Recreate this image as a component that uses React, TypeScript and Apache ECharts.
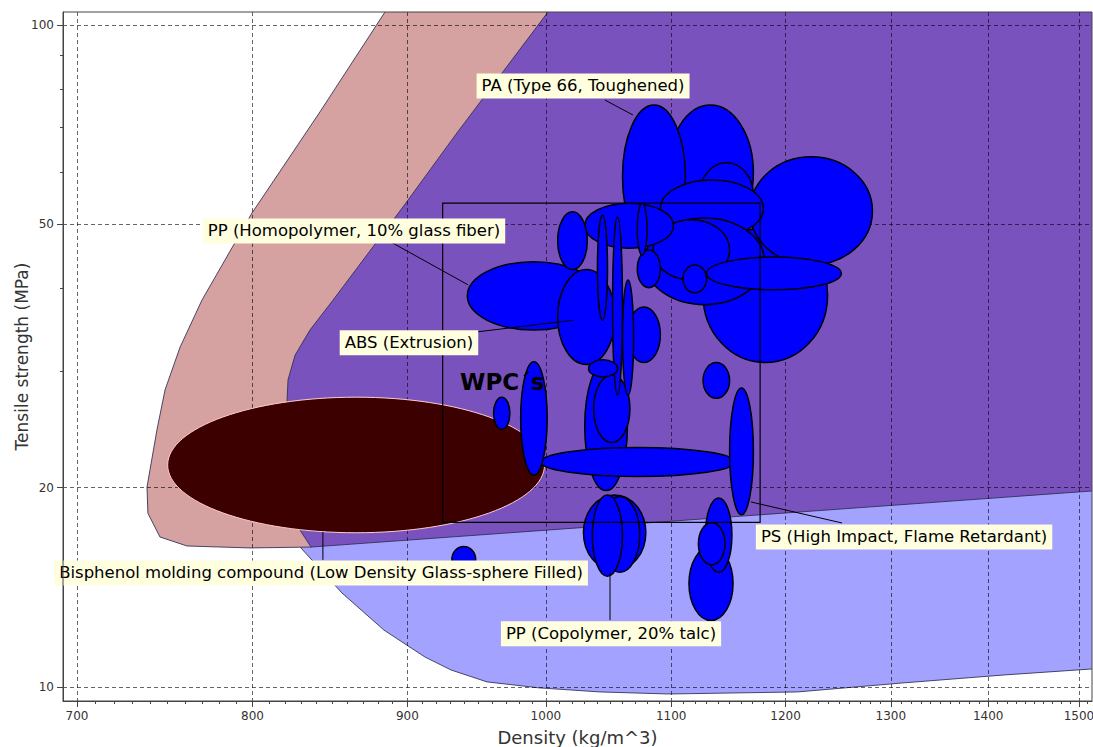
import React, { useEffect, useRef } from "react";
import * as echarts from "echarts";

// Axis extents (density in kg/m^3, tensile strength in MPa), both logarithmic
const X_RANGE: [number, number] = [692.6, 1515];
const Y_RANGE: [number, number] = [9.525, 104.6];
const X_MAJOR = [700, 800, 900, 1000, 1100, 1200, 1300, 1400, 1500];
const Y_MAJOR = [10, 20, 50, 100];
const Y_MINOR = [30, 40, 60, 70, 80, 90];
const X_MINOR: number[] = [];
for (let v = 710; v <= 1510; v += 10) if (v % 100 !== 0) X_MINOR.push(v);

// Family envelopes as outlines of [density, strength]
const BLUE_ENVELOPE: [number, number][] = [
  [1042, 27.1], [823.1, 27.1], [826.3, 17.87], [830.0, 16.22], [856.3, 13.87],
  [884.1, 12.19], [912.1, 11.1], [930.4, 10.61], [956.2, 10.18], [994.8, 9.97],
  [1042, 9.83], [1098, 9.76], [1211, 9.83], [1311, 10.14], [1418, 10.43],
  [1516, 10.65], [1583, 10.8], [1583, 27.1],
];
const PINK_ENVELOPE: [number, number][] = [
  [908.7, 125.4], [884.8, 104.6], [842.1, 73.9], [799.7, 52.0], [769.8, 38.4],
  [757.1, 32.6], [748.5, 28.1], [743.9, 24.45], [738.3, 20.05], [738.8, 18.3],
  [745.6, 16.85], [761.1, 16.33], [798.5, 16.22], [836.4, 16.27], [858.3, 17.87],
  [1042, 64.7], [1082, 125.4],
];
const PURPLE_ENVELOPE: [number, number][] = [
  [1031.8, 125.4], [1001.6, 104.6], [934.6, 68.7], [897.0, 53.1], [850.5, 38.4],
  [835.7, 34.6], [826.3, 31.7], [821.9, 29.1], [821.3, 27.1], [822.5, 22.8],
  [825.6, 19.16], [829.4, 17.26], [836.4, 16.27], [1583, 20.06], [1583, 125.4],
];

// Highlighted grade: Bisphenol molding compound (low density, glass-sphere filled)
const BISPHENOL_DENSITY: [number, number] = [750, 999];
const BISPHENOL_STRENGTH: [number, number] = [17.1, 27.4];

// Individual grades: density range and tensile strength range
const GRADE_DENSITY: [number, number][] = [
  [1127, 1239], [1168, 1282], [1097, 1171], [1060, 1112], [1124, 1171],
  [1091, 1180], [1078, 1181], [1085, 1150], [1030, 1102], [1130, 1252],
  [1110, 1130], [1072, 1091], [1072, 1080], [1030, 1064], [1037, 1066],
  [942, 1042], [1009, 1032], [1009, 1054], [1064, 1091], [1040, 1048],
  [1052, 1060], [1060, 1069], [1033, 1056], [996, 1155], [981, 1001],
  [961, 973], [1150, 1171], [1127, 1150], [1029, 1079], [1042, 1074],
  [1036, 1060], [1115, 1153], [1129, 1152], [1123, 1146], [931, 948],
];
const GRADE_STRENGTH: [number, number][] = [
  [30.9, 49.4], [43.4, 63.2], [47.3, 75.7], [46.0, 75.7], [49.5, 61.9],
  [47.8, 58.3], [37.8, 51.1], [41.2, 50.8], [46.0, 53.8], [39.8, 44.6],
  [39.4, 43.4], [40.1, 45.7], [44.9, 53.8], [19.8, 31.0], [23.4, 29.6],
  [34.6, 43.9], [42.7, 52.2], [30.7, 42.7], [30.9, 37.5], [35.8, 51.6],
  [27.6, 51.3], [27.6, 41.2], [29.4, 31.2], [20.8, 23.0], [20.9, 31.0],
  [24.5, 27.4], [18.2, 28.3], [27.3, 30.9], [15.0, 19.5], [14.9, 19.4],
  [14.7, 19.5], [12.6, 16.3], [14.9, 19.3], [15.3, 17.7], [14.9, 16.3],
];

// WPC selection window
const WPC_DENSITY: [number, number] = [924.5, 1177];
const WPC_STRENGTH: [number, number] = [17.73, 53.8];

// Callouts: text, label centre, leader line start and end (density, strength)
const CALLOUTS: { text: string; at: [number, number]; from: [number, number]; to: [number, number] }[] = [
  { text: "PA (Type 66, Toughened)", at: [1028.7, 80.9], from: [1046.0, 77.0], to: [1068.5, 73.1] },
  { text: "PP (Homopolymer, 10% glass fiber)", at: [864.2, 48.85], from: [881.4, 48.0], to: [942.5, 40.5] },
  { text: "ABS (Extrusion)", at: [901.1, 33.1], from: [949.7, 34.4], to: [1020.9, 35.8] },
  { text: "Bisphenol molding compound (Low Density Glass-sphere Filled)", at: [842.8, 14.87], from: [844.0, 17.14], to: [844.0, 15.56] },
  { text: "PS (High Impact, Flame Retardant)", at: [1313.2, 16.85], from: [1168.9, 19.03], to: [1252.7, 17.69] },
  { text: "PP (Copolymer, 20% talc)", at: [1050.8, 12.03], from: [1050.0, 14.87], to: [1050.0, 12.62] },
];
const WPC_TITLE = { text: "WPC\u00b4s", at: [936.8, 28.9] as [number, number] };

const lg = Math.log10;
const FONT = "DejaVu Sans";

const envelope = (pts: [number, number][], fill: string, z: number) => ({
  type: "custom",
  coordinateSystem: "cartesian2d",
  clip: true,
  silent: true,
  z,
  data: [[lg(pts[0][0]), lg(pts[0][1])]],
  renderItem: (_p: any, api: any) => ({
    type: "polygon",
    shape: { points: pts.map((p) => api.coord([lg(p[0]), lg(p[1])])) },
    style: { fill, stroke: "rgba(45,45,80,0.85)", lineWidth: 1 },
  }),
});

const ellipseItem = (api: any, fill: string, stroke: string, lineWidth: number) => {
  const a = api.coord([api.value(0), api.value(2)]);
  const b = api.coord([api.value(1), api.value(3)]);
  return {
    type: "ellipse",
    shape: {
      cx: (a[0] + b[0]) / 2,
      cy: (a[1] + b[1]) / 2,
      rx: Math.abs(b[0] - a[0]) / 2,
      ry: Math.abs(b[1] - a[1]) / 2,
    },
    style: { fill, stroke, lineWidth },
  };
};

const option: any = {
  animation: false,
  backgroundColor: "#ffffff",
  grid: {
    left: 63, top: 12, right: 1, bottom: 46,
    outerBoundsMode: "none", containLabel: false,
    show: true, borderColor: "#444", borderWidth: 1, backgroundColor: "transparent", z: 6,
  },
  xAxis: [
    {
      type: "value", min: lg(X_RANGE[0]), max: lg(X_RANGE[1]), position: "bottom", z: 2,
      name: "Density (kg/m^3)", nameLocation: "middle", nameGap: 27, nameMoveOverlap: false,
      nameTextStyle: { fontSize: 18, color: "#333", fontFamily: FONT },
      axisLine: { show: true, onZero: false, lineStyle: { color: "#444" } },
      axisTick: { show: true, customValues: X_MAJOR.map(lg), length: 6, lineStyle: { color: "#444" } },
      axisLabel: {
        customValues: X_MAJOR.map(lg), margin: 9, fontSize: 12, color: "#333", fontFamily: FONT,
        hideOverlap: false,
        formatter: (v: number) => String(Math.round(Math.pow(10, v))),
      },
      splitLine: { show: true, lineStyle: { color: "rgba(0,0,0,0.6)", type: [4, 3], width: 1 } },
    },
    {
      type: "value", min: lg(X_RANGE[0]), max: lg(X_RANGE[1]), position: "bottom", z: 2,
      axisLine: { show: false, onZero: false },
      axisTick: { show: true, customValues: X_MINOR.map(lg), length: 3, lineStyle: { color: "#444" } },
      axisLabel: { show: false },
      splitLine: { show: false },
    },
  ],
  yAxis: [
    {
      type: "value", min: lg(Y_RANGE[0]), max: lg(Y_RANGE[1]), position: "left", z: 2,
      name: "Tensile strength (MPa)", nameLocation: "middle", nameGap: 33, nameMoveOverlap: false,
      nameTextStyle: { fontSize: 17, color: "#333", fontFamily: FONT },
      axisLine: { show: true, onZero: false, lineStyle: { color: "#444" } },
      axisTick: { show: true, customValues: Y_MAJOR.map(lg), length: 6, lineStyle: { color: "#444" } },
      axisLabel: {
        customValues: Y_MAJOR.map(lg), margin: 9, fontSize: 12, color: "#333", fontFamily: FONT,
        formatter: (v: number) => String(Math.round(Math.pow(10, v))),
      },
      splitLine: { show: true, lineStyle: { color: "rgba(0,0,0,0.6)", type: [4, 3], width: 1 } },
    },
    {
      type: "value", min: lg(Y_RANGE[0]), max: lg(Y_RANGE[1]), position: "left", z: 2,
      axisLine: { show: false, onZero: false },
      axisTick: { show: true, customValues: Y_MINOR.map(lg), length: 3, lineStyle: { color: "#444" } },
      axisLabel: { show: false },
      splitLine: { show: false },
    },
  ],
  series: [
    envelope(BLUE_ENVELOPE, "#a3a3ff", 0),
    envelope(PINK_ENVELOPE, "#d5a1a1", 0),
    envelope(PURPLE_ENVELOPE, "#7a52be", 0),
    {
      type: "custom", coordinateSystem: "cartesian2d", clip: true, silent: true, z: 3,
      encode: { x: [0, 1], y: [2, 3] },
      data: [[lg(BISPHENOL_DENSITY[0]), lg(BISPHENOL_DENSITY[1]), lg(BISPHENOL_STRENGTH[0]), lg(BISPHENOL_STRENGTH[1])]],
      renderItem: (_p: any, api: any) => ellipseItem(api, "#3d0000", "#ffcccc", 1),
    },
    {
      type: "custom", coordinateSystem: "cartesian2d", clip: true, silent: true, z: 3,
      encode: { x: [0, 1], y: [2, 3] },
      data: GRADE_DENSITY.map((d, i) => [lg(d[0]), lg(d[1]), lg(GRADE_STRENGTH[i][0]), lg(GRADE_STRENGTH[i][1])]),
      renderItem: (_p: any, api: any) => ellipseItem(api, "#0000ff", "#000000", 1.5),
    },
    {
      type: "custom", coordinateSystem: "cartesian2d", clip: true, silent: true, z: 4,
      encode: { x: [0, 1], y: [2, 3] },
      data: [[lg(WPC_DENSITY[0]), lg(WPC_DENSITY[1]), lg(WPC_STRENGTH[0]), lg(WPC_STRENGTH[1])]],
      renderItem: (_p: any, api: any) => {
        const a = api.coord([api.value(0), api.value(2)]);
        const b = api.coord([api.value(1), api.value(3)]);
        return {
          type: "rect",
          shape: { x: a[0], y: b[1], width: b[0] - a[0], height: a[1] - b[1] },
          style: { fill: "none", stroke: "#000", lineWidth: 1.2 },
        };
      },
    },
    {
      type: "custom", coordinateSystem: "cartesian2d", clip: false, silent: true, z: 5,
      data: [[lg(WPC_TITLE.at[0]), lg(WPC_TITLE.at[1])]],
      renderItem: (_p: any, api: any) => {
        const p = api.coord([api.value(0), api.value(1)]);
        return {
          type: "text", x: p[0], y: p[1],
          style: {
            text: WPC_TITLE.text, align: "left", verticalAlign: "middle",
            fontSize: 23, fontWeight: "bold", fontFamily: FONT, fill: "#000",
          },
        };
      },
    },
    {
      type: "custom", coordinateSystem: "cartesian2d", clip: false, silent: true, z: 5,
      data: CALLOUTS.map((c) => [lg(c.at[0]), lg(c.at[1])]),
      renderItem: (params: any, api: any) => {
        const c = CALLOUTS[params.dataIndex];
        const p = api.coord([lg(c.at[0]), lg(c.at[1])]);
        const f = api.coord([lg(c.from[0]), lg(c.from[1])]);
        const t = api.coord([lg(c.to[0]), lg(c.to[1])]);
        return {
          type: "group",
          children: [
            { type: "line", shape: { x1: f[0], y1: f[1], x2: t[0], y2: t[1] }, style: { stroke: "#000", lineWidth: 1 } },
            {
              type: "text", x: p[0], y: p[1],
              style: {
                text: c.text, align: "center", verticalAlign: "middle",
                fontSize: 16.5, fontFamily: FONT, fill: "#000",
                backgroundColor: "#ffffe0", padding: [4, 5],
              },
            },
          ],
        };
      },
    },
  ],
};

export default function App() {
  const ref = useRef<HTMLDivElement>(null);
  useEffect(() => {
    const chart = echarts.init(ref.current!, null, { renderer: "svg" });
    chart.setOption(option);
    return () => chart.dispose();
  }, []);
  return (
    <div
      ref={ref}
      style={{ position: "fixed", left: 0, top: 0, width: 1093, height: 747, background: "#fff" }}
    />
  );
}
